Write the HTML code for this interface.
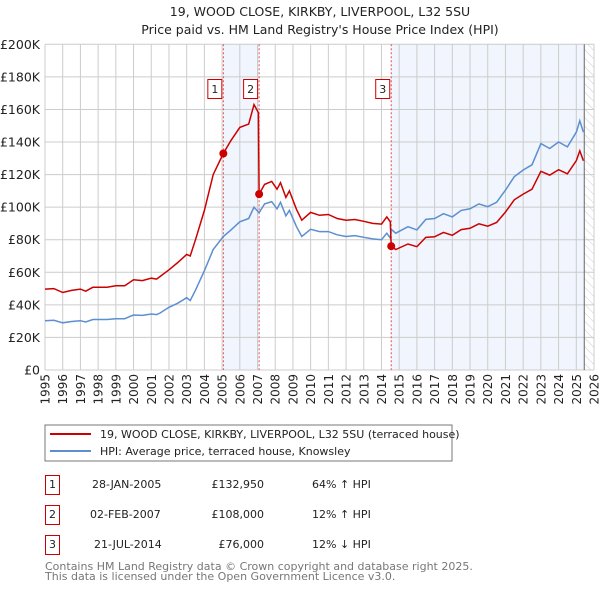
<!DOCTYPE html>
<html><head><meta charset="utf-8"><style>
body{margin:0;background:#fff;font-family:"Liberation Sans","DejaVu Sans",sans-serif;}
svg text{font-family:"DejaVu Sans","Liberation Sans",sans-serif;}
</style></head><body>
<svg id="c" width="600" height="590" xmlns="http://www.w3.org/2000/svg">
<defs><pattern id="hatch" width="6" height="6" patternUnits="userSpaceOnUse" patternTransform="rotate(-45)"><line x1="0" y1="0" x2="0" y2="6" stroke="#ccc" stroke-width="1"/></pattern></defs>
<text x="320" y="16" font-size="12.5" text-anchor="middle" fill="#222">19, WOOD CLOSE, KIRKBY, LIVERPOOL, L32 5SU</text>
<text x="320" y="34" font-size="12.5" text-anchor="middle" fill="#222">Price paid vs. HM Land Registry's House Price Index (HPI)</text>
<g id="plot"></g>
<rect x="45" y="425" width="407" height="36" fill="#fff" stroke="#777"/>
<line x1="50" y1="434" x2="91" y2="434" stroke="#cc0000" stroke-width="2"/>
<text x="100" y="438" font-size="11" fill="#222">19, WOOD CLOSE, KIRKBY, LIVERPOOL, L32 5SU (terraced house)</text>
<line x1="50" y1="451" x2="91" y2="451" stroke="#5b8fd0" stroke-width="2"/>
<text x="100" y="455" font-size="11" fill="#222">HPI: Average price, terraced house, Knowsley</text>
<g font-size="11" fill="#222">
<g><rect x="45.5" y="475.5" width="14" height="19" fill="none" stroke="#cc0000"/><text x="52.5" y="488" text-anchor="middle">1</text><text x="92" y="488">28-JAN-2005</text><text x="264" y="488" text-anchor="end">£132,950</text><text x="312" y="488">64% ↑ HPI</text></g>
<g><rect x="45.5" y="505.5" width="14" height="19" fill="none" stroke="#cc0000"/><text x="52.5" y="518" text-anchor="middle">2</text><text x="90" y="518">02-FEB-2007</text><text x="264" y="518" text-anchor="end">£108,000</text><text x="312" y="518">12% ↑ HPI</text></g>
<g><rect x="45.5" y="535.5" width="14" height="19" fill="none" stroke="#cc0000"/><text x="52.5" y="548" text-anchor="middle">3</text><text x="94" y="548">21-JUL-2014</text><text x="264" y="548" text-anchor="end">£76,000</text><text x="312" y="548">12% ↓ HPI</text></g>
</g>
<text x="45" y="570" font-size="11" fill="#777">Contains HM Land Registry data © Crown copyright and database right 2025.</text>
<text x="45" y="580" font-size="11" fill="#777">This data is licensed under the Open Government Licence v3.0.</text>
</svg>
<script>
const hpiDates=[1995.0,1995.5,1996.0,1996.5,1997.0,1997.3,1997.7,1998.0,1998.5,1999.0,1999.5,2000.0,2000.5,2001.0,2001.3,2001.5,2002.0,2002.5,2003.0,2003.2,2003.5,2004.0,2004.5,2005.07,2005.5,2006.0,2006.5,2006.8,2007.05,2007.09,2007.4,2007.8,2008.1,2008.3,2008.6,2008.8,2009.2,2009.5,2010.0,2010.5,2011.0,2011.5,2012.0,2012.5,2013.0,2013.5,2014.0,2014.3,2014.5,2014.55,2014.8,2015.5,2016.0,2016.5,2017.0,2017.5,2018.0,2018.5,2019.0,2019.5,2020.0,2020.5,2021.0,2021.5,2022.0,2022.5,2023.0,2023.5,2024.0,2024.5,2025.0,2025.2,2025.4];
const hpiValues=[30.3,30.5,29,29.8,30.3,29.5,31,31,31,31.5,31.5,33.8,33.5,34.4,34,35,38.5,41,44.4,42.6,49,61,74,82,86,91,93,100,97,96.5,102,103.4,99,103,94.6,98,88,82,86.4,85,85,83,82,82.5,81.5,80.5,80,84,81,86.4,84,88,86,92.5,93,96,94,98,99,102,100.3,103,110.5,118.7,122.8,126,139,136,140,137,146,153,146];
const priceDates=[1995.0,1995.5,1996.0,1996.5,1997.0,1997.3,1997.7,1998.0,1998.5,1999.0,1999.5,2000.0,2000.5,2001.0,2001.3,2001.5,2002.0,2002.5,2003.0,2003.2,2003.5,2004.0,2004.5,2005.07,2005.5,2006.0,2006.5,2006.8,2007.05,2007.09,2007.4,2007.8,2008.1,2008.3,2008.6,2008.8,2009.2,2009.5,2010.0,2010.5,2011.0,2011.5,2012.0,2012.5,2013.0,2013.5,2014.0,2014.3,2014.5,2014.55,2014.8,2015.5,2016.0,2016.5,2017.0,2017.5,2018.0,2018.5,2019.0,2019.5,2020.0,2020.5,2021.0,2021.5,2022.0,2022.5,2023.0,2023.5,2024.0,2024.5,2025.0,2025.2,2025.4];
const priceValues=[49.7,50,47.6,48.9,49.7,48.4,50.8,50.8,50.8,51.7,51.7,55.4,54.9,56.4,55.8,57.4,61.5,66,71,70,80,98,120,132.95,141,149,151,163,158,108,114,115.8,111,115,106,110,98.6,92,96.8,95,95.5,93,92,92.4,91.3,90,89.6,94,91,76,74,77.4,75.7,81.4,81.8,84.5,82.7,86.2,87,89.8,88.3,90.6,97,104.5,108,111,122,119.7,123,120.5,128.5,134.6,128.5];
const saleLabels=["1","2","3"];
const saleDates=[2005.07,2007.09,2014.55];
const saleValues=[132.95,108,76];
const yTicks=[0,20,40,60,80,100,120,140,160,180,200];
const yTickLabels=["£0","£20K","£40K","£60K","£80K","£100K","£120K","£140K","£160K","£180K","£200K"];
const xTicks=[1995,1996,1997,1998,1999,2000,2001,2002,2003,2004,2005,2006,2007,2008,2009,2010,2011,2012,2013,2014,2015,2016,2017,2018,2019,2020,2021,2022,2023,2024,2025,2026];
const dataEnd=2025.45;

const X0=45,X1=594,Y0=370,Y1=44.3;
const xs=t=>X0+(t-1995)/(2026-1995)*(X1-X0);
const ys=v=>Y0-v/200*(Y0-Y1);
const NS="http://www.w3.org/2000/svg";
const g=document.getElementById('plot');
function mk(tag,attrs,parent){const e=document.createElementNS(NS,tag);for(const k in attrs)e.setAttribute(k,attrs[k]);(parent||g).appendChild(e);return e;}

let e=mk('rect',{x:xs(saleDates[0]),y:Y1,width:xs(saleDates[1])-xs(saleDates[0]),height:Y0-Y1,fill:'#eef3fc',opacity:0.8});


e=mk('rect',{x:xs(saleDates[2]),y:Y1,width:xs(dataEnd)-xs(saleDates[2]),height:Y0-Y1,fill:'#eef3fc',opacity:0.8});


e=mk('rect',{x:xs(dataEnd),y:Y1,width:X1-xs(dataEnd),height:Y0-Y1,fill:'url(#hatch)'});



xTicks.forEach(t=>{
  const l=mk('line',{x1:xs(t),x2:xs(t),y1:Y1,y2:Y0,stroke:'#ccc','stroke-width':1});
  
  
  const px=xs(t)+4.5;
  const tx=mk('text',{x:px,y:374,'font-size':12,'text-anchor':'end',fill:'#222',transform:`rotate(-90 ${px} 374)`});
  tx.textContent=t;
  
  
});
yTicks.forEach((v,i)=>{
  const l=mk('line',{x1:X0,x2:X1,y1:ys(v),y2:ys(v),stroke:'#ccc','stroke-width':1});
  
  
  const tx=mk('text',{x:40,y:ys(v)+4.5,'font-size':12.5,'text-anchor':'end',fill:'#222'});
  tx.textContent=yTickLabels[i];
  
  
});
e=mk('line',{x1:xs(dataEnd),x2:xs(dataEnd),y1:Y1,y2:Y0,stroke:'#666','stroke-width':1});



saleDates.forEach((d,i)=>{
  const l=mk('line',{x1:xs(d),x2:xs(d),y1:Y1,y2:Y0,stroke:'#e05050','stroke-width':1,'stroke-dasharray':'2,2'});
  
  
});

function path(dates,vals){return dates.map((d,i)=>(i?'L':'M')+xs(d).toFixed(1)+','+ys(vals[i]).toFixed(1)).join('');}
e=mk('path',{d:path(hpiDates,hpiValues),fill:'none',stroke:'#5b8fd0','stroke-width':1.5});


e=mk('path',{d:path(priceDates,priceValues),fill:'none',stroke:'#cc0000','stroke-width':1.5});



saleDates.forEach((d,i)=>{
  const c=mk('circle',{cx:xs(d),cy:ys(saleValues[i]),r:4,fill:'#cc0000'});
  
  
  const r=mk('rect',{x:xs(d)-15.5,y:79.5,width:14,height:19,fill:'#fff',stroke:'#cc0000'});
  
  
  const t=mk('text',{x:xs(d)-8.5,y:93,'font-size':11,'text-anchor':'middle',fill:'#222'});
  t.textContent=saleLabels[i];
  
  
});
</script>
</body></html>
